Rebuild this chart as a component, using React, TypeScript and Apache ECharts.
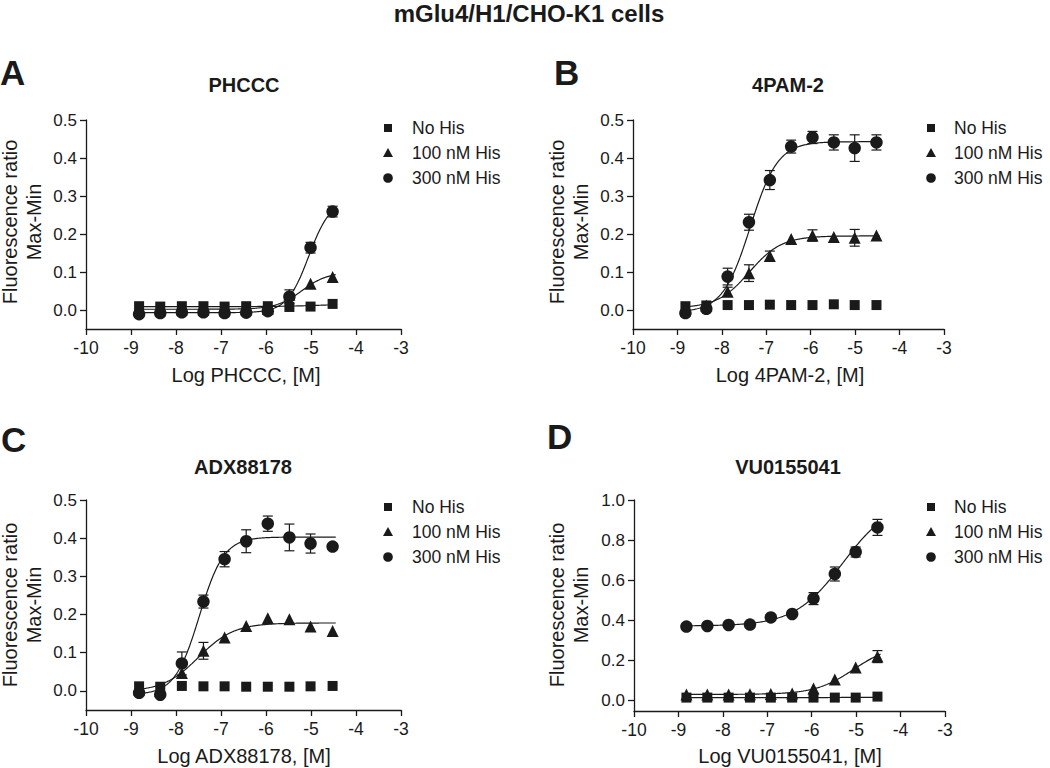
import React, { useEffect, useRef } from "react";
import * as echarts from "echarts";

// ---------- data ----------
const logConc = [-8.82, -8.35, -7.87, -7.39, -6.92, -6.44, -5.96, -5.48, -5.01, -4.52];
const seriesNames = ["No His", "100 nM His", "300 nM His"];
const panelLetters = ["A", "B", "C", "D"];
const panelTitles = ["PHCCC", "4PAM-2", "ADX88178", "VU0155041"];
const xTitles = ["Log PHCCC, [M]", "Log 4PAM-2, [M]", "Log ADX88178, [M]", "Log VU0155041, [M]"];
const yTicksSmall = [0, 0.1, 0.2, 0.3, 0.4, 0.5];
const yTicksLarge = [0, 0.2, 0.4, 0.6, 0.8, 1.0];

// Panel A – PHCCC
const aNoHis = [0.010, 0.009, 0.010, 0.010, 0.009, 0.010, 0.010, 0.008, 0.009, 0.016];
const a100 = [0.002, 0.002, 0.002, 0.002, 0.002, 0.002, 0.003, 0.040, 0.069, 0.087];
const a300 = [-0.011, -0.008, -0.006, -0.006, -0.008, -0.007, -0.003, 0.035, 0.164, 0.259];
const aNoHisErr = [0, 0, 0, 0, 0, 0, 0, 0, 0, 0];
const a100Err = [0, 0, 0, 0, 0, 0, 0, 0, 0, 0];
const a300Err = [0, 0, 0, 0, 0, 0, 0, 0.018, 0.014, 0.014];

// Panel B – 4PAM-2
const bNoHis = [0.010, 0.012, 0.013, 0.013, 0.014, 0.013, 0.013, 0.015, 0.013, 0.013];
const b100 = [0.004, 0.012, 0.048, 0.097, 0.142, 0.187, 0.196, 0.192, 0.190, 0.196];
const b300 = [-0.008, 0.003, 0.088, 0.231, 0.342, 0.430, 0.454, 0.441, 0.426, 0.441];
const bNoHisErr = [0, 0, 0, 0, 0, 0, 0, 0, 0, 0];
const b100Err = [0, 0, 0.012, 0.022, 0.013, 0, 0.015, 0, 0.022, 0];
const b300Err = [0, 0, 0.022, 0.021, 0.025, 0.017, 0.016, 0.020, 0.035, 0.020];

// Panel C – ADX88178
const cNoHis = [0.012, 0.011, 0.013, 0.012, 0.012, 0.011, 0.011, 0.011, 0.012, 0.013];
const c100 = [0.004, 0.000, 0.047, 0.105, 0.140, 0.170, 0.190, 0.188, 0.169, 0.157];
const c300 = [-0.005, -0.010, 0.072, 0.234, 0.345, 0.392, 0.438, 0.402, 0.386, 0.378];
const cNoHisErr = [0, 0, 0, 0, 0, 0, 0, 0, 0, 0];
const c100Err = [0, 0, 0, 0.022, 0, 0, 0, 0, 0, 0];
const c300Err = [0, 0, 0.030, 0.017, 0.020, 0.030, 0.020, 0.035, 0.025, 0];

// Panel D – VU0155041
const dNoHis = [0.012, 0.012, 0.012, 0.012, 0.012, 0.012, 0.012, 0.012, 0.012, 0.017];
const d100 = [0.028, 0.028, 0.028, 0.029, 0.030, 0.033, 0.058, 0.103, 0.162, 0.217];
const d300 = [0.367, 0.370, 0.375, 0.377, 0.413, 0.430, 0.507, 0.630, 0.740, 0.863];
const dNoHisErr = [0, 0, 0, 0, 0, 0, 0, 0, 0, 0];
const d100Err = [0, 0, 0, 0, 0, 0, 0, 0, 0, 0.030];
const d300Err = [0, 0, 0, 0, 0, 0, 0.030, 0.035, 0.025, 0.040];

// Fitted 4-parameter logistic curves: [bottom, top, logEC50, hill] (null = no fit drawn)
const aFits = [[0.009, 0.016, -4.8, 1.0], [0.002, 0.100, -5.2, 1.5], [-0.007, 0.290, -5.05, 1.8]];
const bFits = [null, [0.005, 0.195, -7.38, 1.2], [-0.006, 0.443, -7.36, 1.4]];
const cFits = [null, [-0.002, 0.178, -7.5, 1.1], [-0.010, 0.403, -7.48, 1.6]];
const dFits = [[0.012, 0.014, -5.0, 1.0], [0.028, 0.280, -5.05, 1.0], [0.370, 1.000, -5.3, 0.8]];

const panelValues = [
  [aNoHis, a100, a300],
  [bNoHis, b100, b300],
  [cNoHis, c100, c300],
  [dNoHis, d100, d300],
];
const panelErrors = [
  [aNoHisErr, a100Err, a300Err],
  [bNoHisErr, b100Err, b300Err],
  [cNoHisErr, c100Err, c300Err],
  [dNoHisErr, d100Err, d300Err],
];
const panelFits = [aFits, bFits, cFits, dFits];
const panelYMax = [0.5, 0.5, 0.5, 1.0];
const panelYMin = [-0.05, -0.05, -0.05, -0.055];
const panelYTicks = [yTicksSmall, yTicksSmall, yTicksSmall, yTicksLarge];

// ---------- layout ----------
const FONT = "'Liberation Sans', Arial, Helvetica, sans-serif";
const INK = "#1a1a1a";
const grids = [
  { left: 86, top: 120, width: 315, height: 209 },
  { left: 633, top: 120, width: 311, height: 209 },
  { left: 86, top: 500, width: 315, height: 210 },
  { left: 634, top: 500, width: 311, height: 211 },
];
const letterPos = [[0, 72], [554, 72], [1, 439], [547, 436]];
const titlePos = [[244, 85], [788, 85], [243, 467], [788, 467]];
const yTitlePos = [[10, 34, 222], [557, 581, 222], [10, 34, 605], [557, 581, 605]];
const xTitlePos = [[246, 375], [790, 375], [244, 756], [790, 756]];
const legendPos = [[388, 412, 128], [931, 954, 128], [388, 412, 507], [931, 954, 507]];
const symbols = ["rect", "triangle", "circle"];
const symbolSizes = [10, 12, 12.5];

function logistic(p: number[], x: number) {
  return p[0] + (p[1] - p[0]) / (1 + Math.pow(10, (p[2] - x) * p[3]));
}
function fitCurve(p: number[]) {
  const pts: number[][] = [];
  for (let i = 0; i <= 220; i++) {
    const x = -8.88 + (i * (8.88 - 4.45)) / 220;
    pts.push([x, logistic(p, x)]);
  }
  return pts;
}

function buildOption() {
  const xAxis: any[] = [];
  const yAxis: any[] = [];
  const series: any[] = [];
  const graphic: any[] = [];

  graphic.push({
    type: "text",
    x: 529,
    y: 13,
    style: { text: "mGlu4/H1/CHO-K1 cells", font: `bold 24px ${FONT}`, fill: INK, align: "center", verticalAlign: "middle" },
  });

  for (let p = 0; p < 4; p++) {
    xAxis.push({
      gridIndex: p,
      type: "value",
      min: -10,
      max: -3,
      interval: 1,
      axisLine: { show: true, onZero: false, lineStyle: { color: INK, width: 1.3 } },
      axisTick: { show: true, length: 6, lineStyle: { color: INK, width: 1.3 } },
      axisLabel: { fontSize: 17.5, color: INK, fontFamily: FONT, margin: 10, formatter: (v: number) => String(v) },
      splitLine: { show: false },
    });
    yAxis.push({
      gridIndex: p,
      type: "value",
      min: panelYMin[p],
      max: panelYMax[p],
      axisLine: { show: true, onZero: false, lineStyle: { color: INK, width: 1.3 } },
      axisTick: { show: true, length: 6, customValues: panelYTicks[p], lineStyle: { color: INK, width: 1.3 } },
      axisLabel: {
        fontSize: 17,
        color: INK,
        fontFamily: FONT,
        margin: 9,
        customValues: panelYTicks[p],
        formatter: (v: number) => v.toFixed(1),
      },
      splitLine: { show: false },
    });

    // fitted curves
    panelFits[p].forEach((f) => {
      if (!f) return;
      series.push({
        type: "line",
        xAxisIndex: p,
        yAxisIndex: p,
        data: fitCurve(f as number[]),
        showSymbol: false,
        symbol: "none",
        silent: true,
        z: 3,
        lineStyle: { color: INK, width: 1.2 },
      });
    });

    // error bars
    panelValues[p].forEach((vals, s) => {
      const errs = panelErrors[p][s];
      const items = vals
        .map((v, i) => [logConc[i], v, errs[i]])
        .filter((d) => d[2] > 0);
      if (!items.length) return;
      series.push({
        type: "custom",
        xAxisIndex: p,
        yAxisIndex: p,
        data: items,
        silent: true,
        z: 2,
        encode: { x: 0, y: 1 },
        renderItem: (params: any, api: any) => {
          const x = api.value(0);
          const y = api.value(1);
          const e = api.value(2);
          const top = api.coord([x, y + e]);
          const bot = api.coord([x, y - e]);
          const w = 5;
          const st = { stroke: INK, lineWidth: 1.2 };
          return {
            type: "group",
            children: [
              { type: "line", shape: { x1: top[0], y1: top[1], x2: bot[0], y2: bot[1] }, style: st },
              { type: "line", shape: { x1: top[0] - w, y1: top[1], x2: top[0] + w, y2: top[1] }, style: st },
              { type: "line", shape: { x1: bot[0] - w, y1: bot[1], x2: bot[0] + w, y2: bot[1] }, style: st },
            ],
          };
        },
      });
    });

    // markers
    panelValues[p].forEach((vals, s) => {
      series.push({
        name: seriesNames[s],
        type: "scatter",
        xAxisIndex: p,
        yAxisIndex: p,
        data: vals.map((v, i) => [logConc[i], v]),
        symbol: symbols[s],
        symbolSize: symbolSizes[s],
        itemStyle: { color: INK, opacity: 1 },
        z: 4,
      });
    });

    // texts
    graphic.push({
      type: "text",
      x: letterPos[p][0],
      y: letterPos[p][1],
      style: { text: panelLetters[p], font: `bold 35px ${FONT}`, fill: INK, align: "left", verticalAlign: "middle" },
    });
    graphic.push({
      type: "text",
      x: titlePos[p][0],
      y: titlePos[p][1],
      style: { text: panelTitles[p], font: `bold 20px ${FONT}`, fill: INK, align: "center", verticalAlign: "middle" },
    });
    graphic.push({
      type: "text",
      x: yTitlePos[p][0],
      y: yTitlePos[p][2],
      rotation: Math.PI / 2,
      style: { text: "Fluorescence ratio", font: `20px ${FONT}`, fill: INK, align: "center", verticalAlign: "middle" },
    });
    graphic.push({
      type: "text",
      x: yTitlePos[p][1],
      y: yTitlePos[p][2],
      rotation: Math.PI / 2,
      style: { text: "Max-Min", font: `20px ${FONT}`, fill: INK, align: "center", verticalAlign: "middle" },
    });
    graphic.push({
      type: "text",
      x: xTitlePos[p][0],
      y: xTitlePos[p][1],
      style: { text: xTitles[p], font: `20px ${FONT}`, fill: INK, align: "center", verticalAlign: "middle" },
    });

    // legend
    const [mx, tx, ly] = legendPos[p];
    const gap = 25;
    graphic.push({ type: "rect", shape: { x: mx - 4, y: ly - 4, width: 8, height: 8 }, style: { fill: INK } });
    graphic.push({
      type: "polygon",
      shape: { points: [[mx, ly + gap - 5], [mx + 5, ly + gap + 4], [mx - 5, ly + gap + 4]] },
      style: { fill: INK },
    });
    graphic.push({ type: "circle", shape: { cx: mx, cy: ly + 2 * gap, r: 4.8 }, style: { fill: INK } });
    seriesNames.forEach((n, s) => {
      graphic.push({
        type: "text",
        x: tx,
        y: ly + s * gap,
        style: { text: n, font: `17.5px ${FONT}`, fill: INK, align: "left", verticalAlign: "middle" },
      });
    });
  }

  return {
    animation: false,
    backgroundColor: "#ffffff",
    grid: grids.map((g) => ({ ...g, containLabel: false })),
    xAxis,
    yAxis,
    series,
    graphic,
  };
}

export default function App() {
  const ref = useRef<HTMLDivElement>(null);
  useEffect(() => {
    if (!ref.current) return;
    const chart = echarts.init(ref.current, undefined, { renderer: "svg" });
    chart.setOption(buildOption() as any);
    return () => chart.dispose();
  }, []);
  return (
    <div
      ref={ref}
      style={{ position: "absolute", left: 0, top: 0, width: 1050, height: 768, background: "#fff" }}
    />
  );
}
